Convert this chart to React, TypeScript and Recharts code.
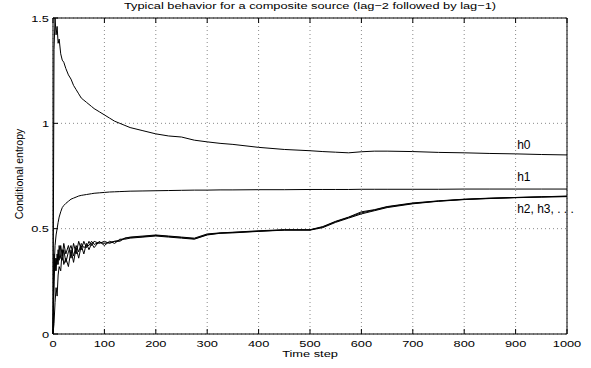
import { CartesianGrid, Line, LineChart, ReferenceDot, XAxis, YAxis } from 'recharts'

const steps = [
  0, 2, 4, 6, 8, 10, 12, 15, 18, 21,
  25, 30, 35, 40, 45, 50, 55, 60, 65, 70,
  75, 80, 90, 100, 110, 120, 130, 140, 150, 175,
  200, 225, 250, 275, 300, 325, 350, 400, 450, 500,
  525, 550, 575, 600, 625, 650, 700, 750, 800, 850,
  900, 950, 1000,
]

const h0 = [
  0, 1.35, 1.5, 1.42, 1.46, 1.38, 1.4, 1.33, 1.3, 1.29,
  1.26, 1.23, 1.21, 1.18, 1.16, 1.14, 1.12, 1.11, 1.1, 1.09,
  1.08, 1.07, 1.055, 1.04, 1.025, 1.01, 1.0, 0.99, 0.98, 0.965,
  0.95, 0.94, 0.935, 0.92, 0.912, 0.905, 0.9, 0.886, 0.876, 0.87,
  0.866, 0.863, 0.86, 0.865, 0.868, 0.868, 0.866, 0.862, 0.86, 0.857,
  0.855, 0.852, 0.85,
]

const h1 = [
  0, 0.3, 0.42, 0.47, 0.5, 0.53, 0.555, 0.58, 0.6, 0.61,
  0.62, 0.63, 0.64, 0.645, 0.65, 0.655, 0.658, 0.66, 0.662, 0.664,
  0.666, 0.668, 0.67, 0.672, 0.674, 0.675, 0.676, 0.677, 0.678, 0.679,
  0.68, 0.681, 0.682, 0.683, 0.683, 0.684, 0.684, 0.685, 0.685, 0.686,
  0.686, 0.686, 0.686, 0.687, 0.687, 0.687, 0.687, 0.687, 0.688, 0.688,
  0.688, 0.688, 0.688,
]

const h2 = [
  0, 0.38, 0.3, 0.36, 0.33, 0.4, 0.35, 0.42, 0.37, 0.43,
  0.38, 0.42, 0.36, 0.43, 0.38, 0.44, 0.4, 0.44, 0.41, 0.44,
  0.42, 0.44, 0.43, 0.44, 0.43, 0.44, 0.44, 0.455, 0.46, 0.465,
  0.47, 0.465, 0.46, 0.455, 0.475, 0.48, 0.483, 0.49, 0.495, 0.495,
  0.51, 0.535, 0.555, 0.58, 0.59, 0.605, 0.622, 0.632, 0.64, 0.645,
  0.648, 0.651, 0.653,
]

const h3 = [
  0, 0.05, 0.15, 0.22, 0.18, 0.28, 0.32, 0.3, 0.4, 0.33,
  0.36, 0.32, 0.4, 0.34, 0.41, 0.36, 0.42, 0.38, 0.43, 0.4,
  0.43, 0.41, 0.44, 0.42, 0.44, 0.43, 0.45, 0.45, 0.455, 0.46,
  0.465, 0.46, 0.455, 0.45, 0.47, 0.478, 0.48, 0.487, 0.493, 0.493,
  0.505, 0.53, 0.55, 0.57, 0.585, 0.6, 0.618, 0.63, 0.638, 0.643,
  0.647, 0.65, 0.652,
]

const h4 = [
  0, 0.25, 0.36, 0.3, 0.38, 0.33, 0.42, 0.36, 0.35, 0.4,
  0.34, 0.39, 0.42, 0.37, 0.42, 0.39, 0.43, 0.41, 0.42, 0.42,
  0.44, 0.425, 0.435, 0.43, 0.435, 0.44, 0.445, 0.455, 0.458, 0.462,
  0.468, 0.463, 0.458, 0.452, 0.472, 0.479, 0.482, 0.488, 0.494, 0.494,
  0.508, 0.533, 0.553, 0.575, 0.588, 0.603, 0.62, 0.631, 0.639, 0.644,
  0.648, 0.651, 0.655,
]

const xTicks = [0, 100, 200, 300, 400, 500, 600, 700, 800, 900, 1000]
const yTicks = [0, 0.5, 1, 1.5]

// curve labels placed in data coordinates (x, y of text baseline start)
const curveLabels = [
  { text: 'h0', x: 903, y: 0.878 },
  { text: 'h1', x: 903, y: 0.726 },
  { text: 'h2, h3, . . .', x: 903, y: 0.574 },
]

const data = steps.map((t, i) => ({ t, h0: h0[i], h1: h1[i], h2: h2[i], h3: h3[i], h4: h4[i] }))

const FONT = '"Liberation Sans", Arial, Helvetica, sans-serif'
const TICK_LEN = 5
// the original figure was stretched sideways, so its text is wider than it is tall
const STRETCH = 1.35

const WideText = ({ x, y, anchor = 'middle', size = 9.5, children }: any) => (
  <text
    transform={`translate(${x},${y}) scale(${STRETCH},1)`}
    textAnchor={anchor}
    fontSize={size}
    fontFamily={FONT}
    fill="#000"
  >
    {children}
  </text>
)

// axes get 1px of room (a 0px axis is not drawn), ticks point into the plot
const BottomTick = ({ x, y, payload }: any) => (
  <g>
    <line x1={x} y1={y} x2={x} y2={y - TICK_LEN} stroke="#000" />
    <WideText x={x} y={y + 12.5}>{payload.value}</WideText>
  </g>
)

const TopTick = ({ x, y }: any) => <line x1={x} y1={y} x2={x} y2={y + TICK_LEN} stroke="#000" />

const LeftTick = ({ x, y, payload }: any) => (
  <g>
    <line x1={x} y1={y} x2={x + TICK_LEN} y2={y} stroke="#000" />
    <WideText x={x - 4} y={y + 3.5} anchor="end">{payload.value}</WideText>
  </g>
)

const RightTick = ({ x, y }: any) => <line x1={x} y1={y} x2={x - TICK_LEN} y2={y} stroke="#000" />

const series = ['h0', 'h1', 'h2', 'h3', 'h4']

export default function App() {
  return (
    <div style={{ position: 'relative', width: 591, height: 368, background: '#fff' }}>
      <style>{`body { margin: 0; }`}</style>
      <LineChart
        width={591}
        height={368}
        data={data}
        margin={{ top: 17, right: 23, bottom: 33, left: 52 }}
      >
        <CartesianGrid stroke="#8a8a8a" strokeDasharray="1 3" />
        <XAxis
          dataKey="t"
          type="number"
          domain={[0, 1000]}
          ticks={xTicks}
          height={1}
          tickSize={0}
          tickMargin={0}
          tick={BottomTick}
          axisLine={{ stroke: '#000' }}
          interval={0}
        />
        <XAxis
          xAxisId="top"
          orientation="top"
          dataKey="t"
          type="number"
          domain={[0, 1000]}
          ticks={xTicks}
          height={1}
          tickSize={0}
          tickMargin={0}
          tick={TopTick}
          axisLine={{ stroke: '#000' }}
          interval={0}
        />
        <YAxis
          type="number"
          domain={[0, 1.5]}
          ticks={yTicks}
          width={1}
          tickSize={0}
          tickMargin={0}
          tick={LeftTick}
          axisLine={{ stroke: '#000' }}
          interval={0}
        />
        <YAxis
          yAxisId="right"
          orientation="right"
          type="number"
          domain={[0, 1.5]}
          ticks={yTicks}
          width={1}
          tickSize={0}
          tickMargin={0}
          tick={RightTick}
          axisLine={{ stroke: '#000' }}
          interval={0}
        />
        {series.map((key) => (
          <Line
            key={key}
            dataKey={key}
            type="linear"
            stroke="#000"
            strokeWidth={1}
            dot={false}
            isAnimationActive={false}
          />
        ))}
        {curveLabels.map((l) => (
          <ReferenceDot
            key={l.text}
            x={l.x}
            y={l.y}
            r={0}
            ifOverflow="visible"
            shape={(p: any) => (
              <text x={p.cx} y={p.cy} fontSize={12} fontFamily={FONT} fill="#000">
                {l.text}
              </text>
            )}
          />
        ))}
      </LineChart>
      <svg
        width={591}
        height={368}
        style={{ position: 'absolute', left: 0, top: 0, pointerEvents: 'none' }}
      >
        <WideText x={310} y={9}>
          Typical behavior for a composite source (lag−2 followed by lag−1)
        </WideText>
        <WideText x={310} y={357}>Time step</WideText>
        <text
          x={23}
          y={174}
          textAnchor="middle"
          fontSize={10.5}
          fontFamily={FONT}
          fill="#000"
          transform="rotate(-90 23 174)"
        >
          Conditional entropy
        </text>
      </svg>
    </div>
  )
}
